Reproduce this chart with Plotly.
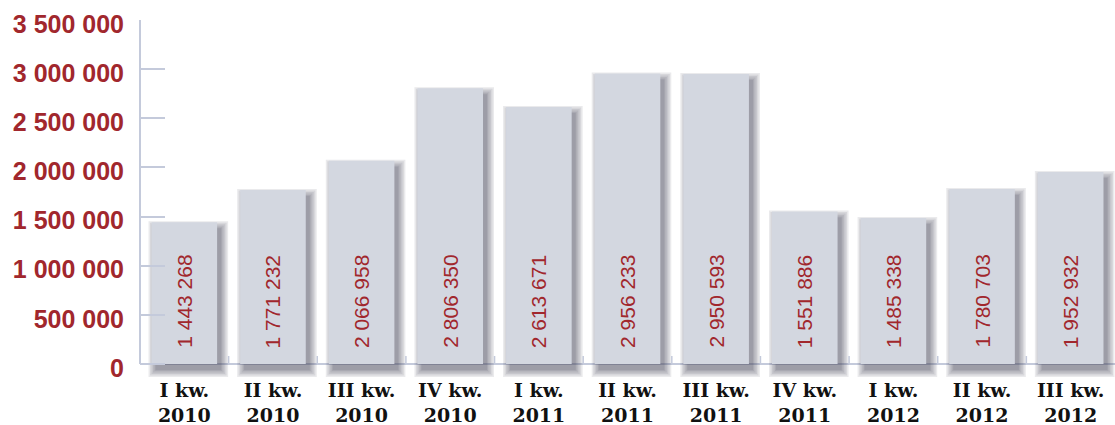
import plotly.graph_objects as go

categories = ["I kw.<br>2010", "II kw.<br>2010", "III kw.<br>2010", "IV kw.<br>2010",
              "I kw.<br>2011", "II kw.<br>2011", "III kw.<br>2011", "IV kw.<br>2011",
              "I kw.<br>2012", "II kw.<br>2012", "III kw.<br>2012"]
values = [1443268, 1771232, 2066958, 2806350, 2613671, 2956233, 2950593,
          1551886, 1485338, 1780703, 1952932]
y_tickvals = [0, 500000, 1000000, 1500000, 2000000, 2500000, 3000000, 3500000]
y_ticktext = ["0", "500 000", "1 000 000", "1 500 000", "2 000 000",
              "2 500 000", "3 000 000", "3 500 000"]

RED = "#a1272d"
AXIS = "#c4cadb"
BAR = "#d3d7e0"

W, H = 1115, 425
ML, MR, MT, MB = 140, 0, 20, 45
plot_w = W - ML - MR
plot_h = H - MT - MB
YMAX = 3500000
YMIN = -163000
px_x = len(categories) / plot_w          # category units per pixel
px_y = (YMAX - YMIN) / plot_h            # data units per pixel

BW = 0.74
fig = go.Figure()

# soft drop shadow made of layered translucent bars
dx, dy = 4, 6
for e in [7, 5.5, 4, 2.5, 1, 0]:
    fig.add_trace(go.Bar(
        x=categories, y=[v + 2 * e * px_y for v in values],
        base=(-dy - e) * px_y,
        offset=-BW / 2 + (dx - e) * px_x, width=BW + 2 * e * px_x,
        marker=dict(color="rgba(60,64,80,0.11)", line=dict(width=0)),
        hoverinfo="skip", showlegend=False))

fig.add_trace(go.Bar(
    x=categories, y=values, offset=-BW / 2, width=BW,
    marker=dict(color=BAR, line=dict(width=0)),
    hoverinfo="skip", showlegend=False))

for c, v in zip(categories, values):
    fig.add_annotation(
        x=c, y=0, xref="x", yref="y", text=f"{v:,}".replace(",", " "),
        textangle=-90, showarrow=False, yanchor="bottom", xanchor="center",
        yshift=14, font=dict(family="Liberation Sans, Arial", size=21, color=RED))

# y axis line from 0 to top
fig.add_shape(type="line", xref="paper", yref="y", x0=0, x1=0, y0=0, y1=YMAX,
              line=dict(color=AXIS, width=2))
# small ticks between categories on the x axis line
for i in range(len(categories) - 1):
    fig.add_shape(type="line", xref="x", yref="y", x0=i + 0.5, x1=i + 0.5,
                  y0=0, y1=8 * px_y, line=dict(color=AXIS, width=1.5))

fig.update_layout(
    width=W, height=H,
    margin=dict(l=ML, r=MR, t=MT, b=MB, autoexpand=False),
    paper_bgcolor="white", plot_bgcolor="white",
    barmode="overlay",
    xaxis=dict(type="category", showgrid=False, showline=False, ticks="",
               range=[-0.5, len(categories) - 0.5], automargin=False,
               tickfont=dict(family="DejaVu Serif", size=19, color="#111111", weight="bold"),
               ticklabelstandoff=-3),
    yaxis=dict(range=[YMIN, YMAX], tickvals=y_tickvals, ticktext=y_ticktext,
               showgrid=False, showline=False, ticks="inside", ticklen=25,
               tickcolor=AXIS, tickwidth=2, automargin=False,
               zeroline=True, zerolinecolor=AXIS, zerolinewidth=2,
               tickfont=dict(family="Liberation Sans, Arial", size=25, color=RED, weight="bold"),
               ticklabelstandoff=15, ticklabelshift=4),
)

fig.write_html("out.html")
